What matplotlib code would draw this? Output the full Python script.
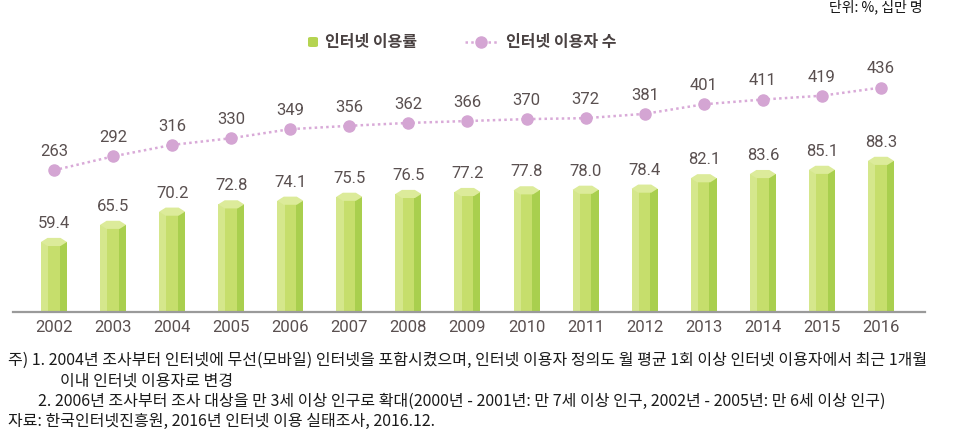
import matplotlib
matplotlib.use('Agg')
import matplotlib.pyplot as plt
from matplotlib.patches import Polygon, FancyBboxPatch
from matplotlib.lines import Line2D

years = ['2002', '2003', '2004', '2005', '2006', '2007', '2008', '2009',
         '2010', '2011', '2012', '2013', '2014', '2015', '2016']
usage_rate = [59.4, 65.5, 70.2, 72.8, 74.1, 75.5, 76.5, 77.2, 77.8, 78.0,
              78.4, 82.1, 83.6, 85.1, 88.3]
users = [263, 292, 316, 330, 349, 356, 362, 366, 370, 372, 381, 401, 411, 419, 436]

legend_labels = ['인터넷 이용률', '인터넷 이용자 수']
unit_text = '단위: %, 십만 명'
notes = [
    '주) 1. 2004년 조사부터 인터넷에 무선(모바일) 인터넷을 포함시켰으며, 인터넷 이용자 정의도 월 평균 1회 이상 인터넷 이용자에서 최근 1개월',
    '이내 인터넷 이용자로 변경',
    '2. 2006년 조사부터 조사 대상을 만 3세 이상 인구로 확대(2000년 - 2001년: 만 7세 이상 인구, 2002년 - 2005년: 만 6세 이상 인구)',
    '자료: 한국인터넷진흥원, 2016년 인터넷 이용 실태조사, 2016.12.',
]

KR = ['Noto Sans CJK KR', 'DejaVu Sans']
NUM = ['Roboto', 'DejaVu Sans']
TXT = '#5a5050'

W, H = 969, 441
fig = plt.figure(figsize=(W / 100, H / 100), dpi=100)
ax = fig.add_axes([13 / W, 1 - 312 / H, 912 / W, 272 / H])
ax2 = ax.twinx()

xs = list(range(len(years)))
ybot = 33.0
ax.set_xlim(-0.694, 14.745)
ax.set_ylim(ybot, 129.9)
ax2.set_ylim(-33.8, 535.6)

bw = 0.44
cap = 1.45  # half-height of the cap in data units
body = [v - cap - ybot for v in usage_rate]
ax.bar(xs, body, bottom=ybot, width=bw, color='#c6de6c', zorder=2, linewidth=0)
ax.bar([x - bw * 0.36 for x in xs], body, bottom=ybot, width=bw * 0.28,
       color='#d5e78c', zorder=2, linewidth=0)
ax.bar([x + bw * 0.36 for x in xs], body, bottom=ybot, width=bw * 0.28,
       color='#a9cf4e', zorder=2, linewidth=0)
for x, v in zip(xs, usage_rate):
    c = v - cap
    pts = [(x - bw / 2, c), (x - bw / 4, c - cap), (x + bw / 4, c - cap),
           (x + bw / 2, c), (x + bw / 4, c + cap), (x - bw / 4, c + cap)]
    ax.add_patch(Polygon(pts, closed=True, facecolor='#dceb9a',
                         edgecolor='none', zorder=3))
    ax.annotate(f'{v:.1f}', (x, v), xytext=(0, 5), textcoords='offset points',
                ha='center', va='bottom', fontsize=12, color=TXT,
                family=NUM, zorder=5)

ax2.plot(xs, users, linestyle=(0, (1, 1.3)), color='#d9aad8', linewidth=1.8,
         marker='o', markersize=8, markerfacecolor='#d4a5d3',
         markeredgecolor='#d4a5d3', zorder=4)
for x, v in zip(xs, users):
    ax2.annotate(str(v), (x, v), xytext=(0, 8), textcoords='offset points',
                 ha='center', va='bottom', fontsize=12, color=TXT,
                 family=NUM)

for a in (ax, ax2):
    for s in ('top', 'right', 'left'):
        a.spines[s].set_visible(False)
    a.set_yticks([])
ax2.spines['bottom'].set_visible(False)
ax.spines['bottom'].set_color('#9a9a9a')
ax.spines['bottom'].set_linewidth(1.6)
ax.set_xticks(xs, years)
ax.tick_params(axis='x', length=0, pad=6, labelsize=12, labelcolor=TXT)
for t in ax.get_xticklabels():
    t.set_family(NUM)

# legend
ly = 1 - 42 / H
fig.patches.append(FancyBboxPatch((308 / W, ly - 5 / H), 10 / W, 10 / H,
                                  boxstyle='round,pad=0,rounding_size=0.003',
                                  transform=fig.transFigure,
                                  facecolor='#b5d451', edgecolor='none'))
fig.text(325 / W, ly, legend_labels[0], ha='left', va='center', fontsize=11.5,
         color='#4a4242', family=KR, weight='bold')
fig.add_artist(Line2D([465 / W, 497 / W], [ly, ly], transform=fig.transFigure,
                      linestyle=(0, (1, 1.3)), color='#d9aad8', linewidth=1.8))
fig.add_artist(Line2D([481 / W], [ly], transform=fig.transFigure, marker='o',
                      markersize=8, color='#d4a5d3', linestyle='none'))
fig.text(506 / W, ly, legend_labels[1], ha='left', va='center', fontsize=11.5,
         color='#4a4242', family=KR, weight='bold')

fig.text(923 / W, 1 - 7 / H, unit_text, ha='right', va='center', fontsize=10,
         color='#111111', family=KR)

note_pos = [(8, 360), (60, 381), (38, 401), (8, 421)]
for (nx, ny), s in zip(note_pos, notes):
    fig.text(nx / W, 1 - ny / H, s, ha='left', va='center', fontsize=11.5,
             color='#1a1a1a', family=KR)

fig.savefig('out.png', dpi=100)
